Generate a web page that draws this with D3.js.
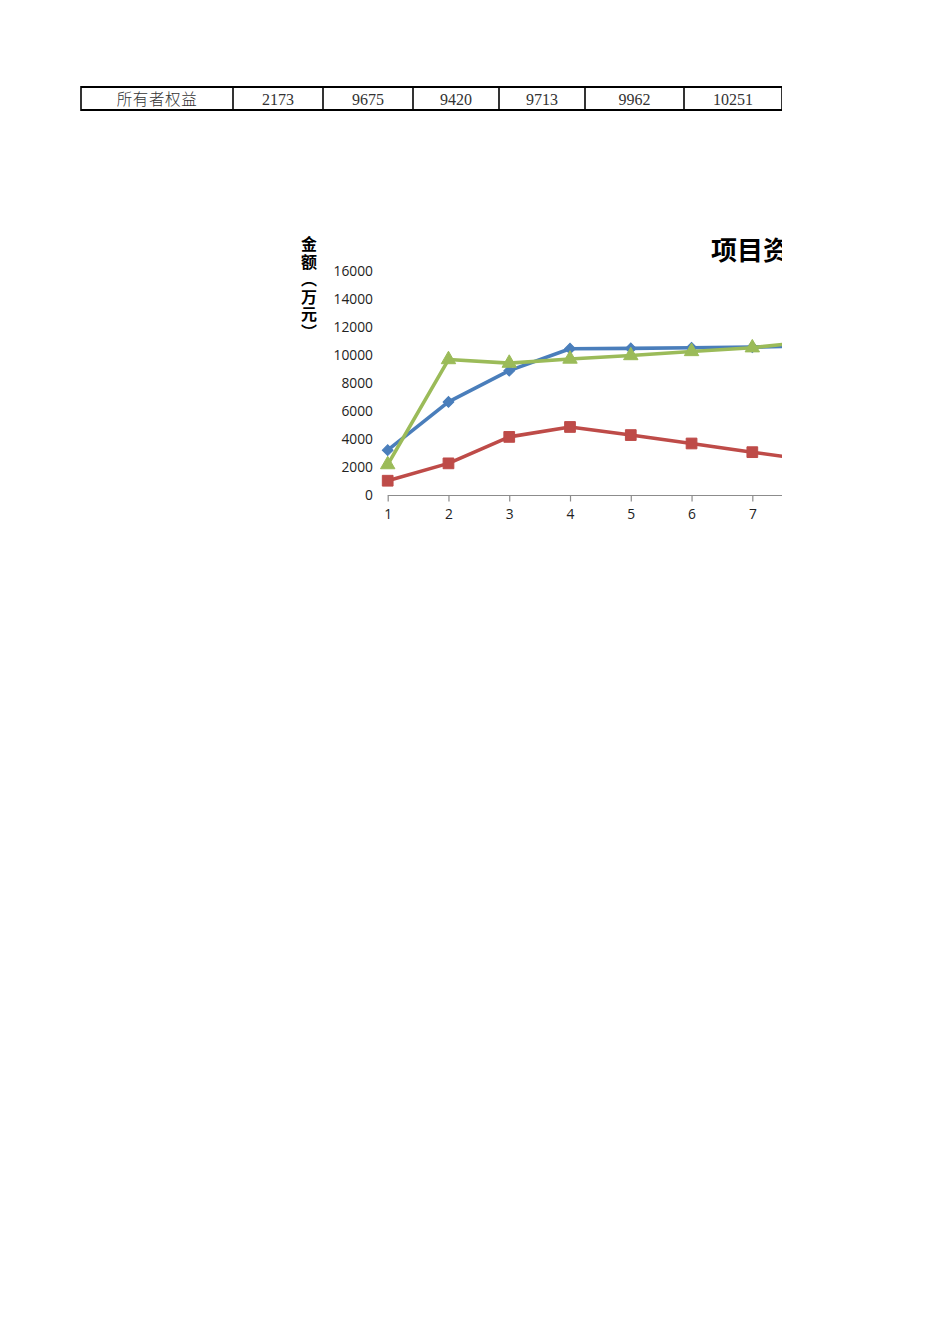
<!DOCTYPE html>
<html>
<head>
<meta charset="utf-8">
<script src="https://cdn.jsdelivr.net/npm/d3@7/dist/d3.min.js"></script>
<style>
  body { margin: 0; background: #ffffff; }
</style>
</head>
<body>
<div id="page"></div>
<script>

// table row (only the owner's equity row is visible on this page)
const tableLabel = "所有者权益";
const tableValues = [2173, 9675, 9420, 9713, 9962, 10251];

// chart data
const years = [1, 2, 3, 4, 5, 6, 7, 8];
const totalAssets = [3200, 6650, 8880, 10450, 10470, 10520, 10560, 10650];
const liabilities = [1020, 2260, 4150, 4860, 4280, 3680, 3060, 2460];
const ownerEquity = [2173, 9675, 9420, 9713, 9962, 10251, 10520, 11000];
const yTicks = [0, 2000, 4000, 6000, 8000, 10000, 12000, 14000, 16000];

const chartTitle = "项目资产负债图";
const yTitle = "金额（万元）";

const fontFamily = "'Open Sans', 'Noto Sans', sans-serif";
const cjkFont = "'Noto Sans CJK SC', sans-serif";


const svg = d3.select("#page").append("svg")
  .attr("width", 950)
  .attr("height", 1344);

svg.append("rect")
  .attr("width", 950)
  .attr("height", 1344)
  .attr("fill", "#ffffff");

// page is cut at the print area edge
svg.append("clipPath")
  .attr("id", "printArea")
  .append("rect")
  .attr("x", 0)
  .attr("y", 0)
  .attr("width", 782)
  .attr("height", 1344);

const page = svg.append("g").attr("clip-path", "url(#printArea)");


//--------------------------------------
// TABLE ROW
//--------------------------------------

function drawTable() {

  let cellEdges = [81, 233, 323, 413, 499, 585, 684, 782];
  let top = 87, bottom = 110;
  let cells = [tableLabel].concat(tableValues);

  let table = page.append("g");

  table.append("line")
    .attr("x1", cellEdges[0]).attr("x2", cellEdges[cellEdges.length - 1])
    .attr("y1", top).attr("y2", top)
    .attr("stroke", "#000").attr("stroke-width", 2);

  table.append("line")
    .attr("x1", cellEdges[0]).attr("x2", cellEdges[cellEdges.length - 1])
    .attr("y1", bottom).attr("y2", bottom)
    .attr("stroke", "#000").attr("stroke-width", 2);

  table.selectAll("line.sep")
    .data(cellEdges)
    .enter()
    .append("line")
    .attr("class", "sep")
    .attr("x1", function(d) { return d; })
    .attr("x2", function(d) { return d; })
    .attr("y1", top - 1)
    .attr("y2", bottom + 1)
    .attr("stroke", "#000")
    .attr("stroke-width", 1.6);

  table.selectAll("text")
    .data(cells)
    .enter()
    .append("text")
    .attr("x", function(d, i) { return (cellEdges[i] + cellEdges[i + 1]) / 2; })
    .attr("y", 105)
    .attr("text-anchor", "middle")
    .attr("font-family", function(d, i) { return i === 0 ? cjkFont : "'Liberation Serif', serif"; })
    .attr("font-weight", function(d, i) { return i === 0 ? 300 : 400; })
    .attr("font-size", function(d, i) { return i === 0 ? 15.5 : 16; })
    .style("letter-spacing", function(d, i) { return i === 0 ? "0.6px" : "0px"; })
    .attr("fill", "#333")
    .text(function(d) { return d; });

}


//--------------------------------------
// CHART
//--------------------------------------

function drawChart() {

  let x = d3.scaleLinear()
    .domain([1, 8])
    .range([387.7, 387.7 + 7 * 60.77]);

  let y = d3.scaleLinear()
    .domain([0, 16000])
    .range([495, 271]);

  let chart = page.append("g");

  // title
  chart.append("text")
    .attr("x", 711)
    .attr("y", 260)
    .attr("font-family", cjkFont)
    .attr("font-weight", "bold")
    .attr("font-size", 26)
    .attr("fill", "#000")
    .text(chartTitle);

  // y axis title, stacked vertical
  chart.append("text")
    .attr("x", 309)
    .attr("y", 236)
    .attr("font-family", cjkFont)
    .attr("font-weight", "bold")
    .attr("font-size", 16)
    .attr("fill", "#000")
    .style("writing-mode", "vertical-rl")
    .style("letter-spacing", "1.5px")
    .text(yTitle);

  // y axis (labels only, no line)
  let yAxis = chart.append("g")
    .attr("transform", "translate(387,0)")
    .call(d3.axisLeft(y).tickValues(yTicks).tickSize(0).tickPadding(14).tickFormat(d3.format("d")));

  yAxis.select(".domain").remove();
  yAxis.selectAll("text")
    .attr("font-family", fontFamily)
    .attr("font-size", 13.8)
    .attr("fill", "#222");

  // x axis
  let xAxis = chart.append("g")
    .attr("transform", "translate(0,495.5)")
    .call(d3.axisBottom(x).tickValues(years).tickSize(6).tickPadding(8).tickFormat(d3.format("d")));

  xAxis.select(".domain")
    .attr("d", "M" + x(1) + ",0H" + x(8))
    .attr("stroke", "#8c8c8c")
    .attr("stroke-width", 1.2);
  xAxis.selectAll(".tick line")
    .attr("stroke", "#8c8c8c")
    .attr("stroke-width", 1.2);
  xAxis.selectAll("text")
    .attr("font-family", fontFamily)
    .attr("font-size", 13.8)
    .attr("fill", "#222");

  let series = [
    { values: totalAssets, color: "#4A7EBB", symbol: d3.symbolSquare, size: 58, rotate: 45 },
    { values: liabilities, color: "#BE4B48", symbol: d3.symbolSquare, size: 115, rotate: 0 },
    { values: ownerEquity, color: "#9BBB59", symbol: d3.symbolTriangle, size: 90, rotate: 0 }
  ];

  let line = d3.line()
    .x(function(d, i) { return x(years[i]); })
    .y(function(d) { return y(d); });

  $each(series, function(s) {

    let g = chart.append("g");

    g.append("path")
      .attr("d", line(s.values))
      .attr("fill", "none")
      .attr("stroke", s.color)
      .attr("stroke-width", 3.6)
      .attr("stroke-linejoin", "round");

    g.selectAll("path.marker")
      .data(s.values)
      .enter()
      .append("path")
      .attr("class", "marker")
      .attr("transform", function(d, i) {
        return "translate(" + x(years[i]) + "," + y(d) + ") rotate(" + s.rotate + ")";
      })
      .attr("d", d3.symbol().type(s.symbol).size(s.size))
      .attr("fill", s.color)
      .attr("stroke", s.color)
      .attr("stroke-width", 1);

  });

}

function $each(arr, fn) {
  for (let i = 0; i < arr.length; i++) fn(arr[i], i);
}


drawTable();
drawChart();

</script>
</body>
</html>
